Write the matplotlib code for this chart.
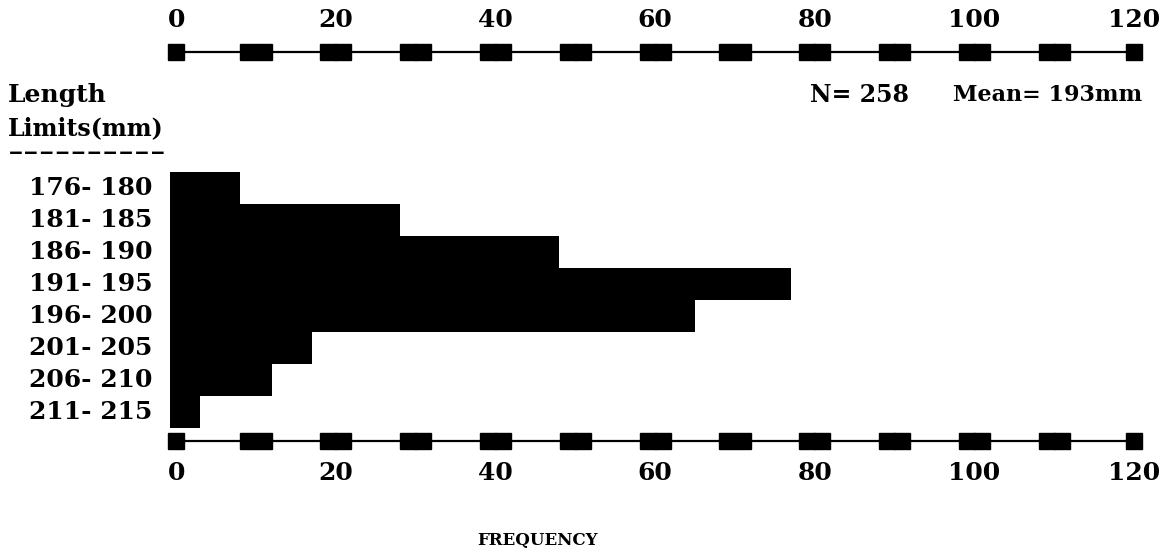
import numpy as np, matplotlib
matplotlib.use("Agg"); import matplotlib.pyplot as plt

W,H=1165,555
bins=["176- 180","181- 185","186- 190","191- 195","196- 200","201- 205","206- 210","211- 215"]
freq=[8,28,48,77,65,17,12,3]
ticks=[0,20,40,60,80,100,120]
single_marks=[0,120]
double_marks=[10,20,30,40,50,60,70,80,90,100,110]
n_total=258; mean_len=193

FONT=dict(family="DejaVu Serif",weight="bold",color="black")
fig=plt.figure(figsize=(W/100,H/100),dpi=100)
ax=fig.add_axes([0,0,1,1]); ax.set_axis_off()
X0,PPU=176.2,7.982      # pixel of zero, pixels per count
ROW0,ROWH=188,32        # pixel centre of first row, row height
ax.set_xlim(-X0/PPU,(W-X0)/PPU); ax.set_ylim((H-ROW0)/ROWH,-ROW0/ROWH)
def py(p): return (p-ROW0)/ROWH
def ft(x,y,s,**kw): fig.text(x/W,1-y/H,s,**kw)

y=np.arange(len(freq))
ax.barh(y,np.array(freq)+0.8,left=-0.8,height=1.0,color="black",linewidth=0)
for i,lab in enumerate(bins):
    ax.text(-3.0,i,lab,ha="right",va="center",fontsize=18,**FONT)

# scale bars top and bottom
dm=np.concatenate([np.array(double_marks)-0.95,np.array(double_marks)+0.95])
for yl,yt in [(py(52),py(20)),(py(441),py(473))]:
    ax.plot([0,120],[yl,yl],color="black",lw=1.6)
    ax.plot(single_marks,[yl]*len(single_marks),ls="none",marker="s",ms=11.5,color="black")
    ax.plot(dm,[yl]*len(dm),ls="none",marker="s",ms=11.5,color="black")
    for t in ticks:
        ax.text(t,yt,str(t),ha="center",va="center",fontsize=18,**FONT)

ft(8,95,"Length",ha="left",va="center",fontsize=18,**FONT)
ft(8,128,"Limits(mm)",ha="left",va="center",fontsize=17,**FONT)
ft(8,152,"–"*10,ha="left",va="center",fontsize=19,family="Liberation Mono",weight="bold")
ft(810,95,f"N= {n_total}",ha="left",va="center",fontsize=17,**FONT)
ft(1142,95,f"Mean= {mean_len}mm",ha="right",va="center",fontsize=16,**FONT)
ft(538,540,"FREQUENCY",ha="center",va="center",fontsize=12,**FONT)

fig.savefig("out.png",dpi=100,facecolor="white")
